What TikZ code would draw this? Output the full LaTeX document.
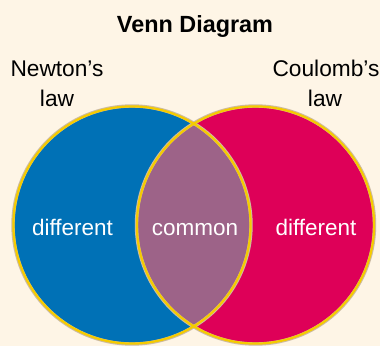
\documentclass[tikz,border=0pt]{standalone}
\usepackage{fontspec}
\setmainfont{Liberation Sans}
\definecolor{bgc}{HTML}{FEF5E6}
\definecolor{lblue}{HTML}{0071B6}
\definecolor{rmag}{HTML}{DE0058}
\definecolor{lens}{HTML}{9D6388}
\definecolor{ringy}{HTML}{F5CB00}
\definecolor{ringo}{HTML}{CDBBA2}
\tikzset{
  lab/.style={anchor=base, font=\fontsize{22.7}{27}\selectfont, text=black, inner sep=0pt},
  inlab/.style={anchor=base, font=\fontsize{22.5}{27}\selectfont, text=white, inner sep=0pt},
  ttl/.style={anchor=base, font=\fontsize{23.4}{28}\selectfont\bfseries, inner sep=0pt},
  ringouter/.style={draw=ringo, line width=3.4pt},
  ringinner/.style={draw=ringy, line width=2.2pt}
}
\begin{document}
\begin{tikzpicture}[x=1pt,y=1pt]
\fill[bgc] (0,0) rectangle (380,346);
\useasboundingbox (0,0) rectangle (380,346);
\coordinate (cl) at (132,121);
\coordinate (cr) at (255.5,121);
\fill[lblue] (cl) circle (119);
\fill[rmag] (cr) circle (119);
\begin{scope}
\clip (cl) circle (119);
\fill[lens] (cr) circle (119);
\end{scope}
\draw[ringouter] (cl) circle (119);
\draw[ringouter] (cr) circle (119);
\draw[ringinner] (cl) circle (118.6);
\draw[ringinner] (cr) circle (118.6);
\node[ttl] (title) at (195,313) {Venn Diagram};
\node[lab] (newton) at (57,269) {Newton’s};
\node[lab] (newtonlaw) at (57,240) {law};
\node[lab] (coulomb) at (326,269) {Coulomb’s};
\node[lab] (coulomblaw) at (325,240) {law};
\node[inlab] (diffl) at (72.5,111) {different};
\node[inlab] (comm) at (195,111) {common};
\node[inlab] (diffr) at (316,111) {different};
\end{tikzpicture}
\end{document}
